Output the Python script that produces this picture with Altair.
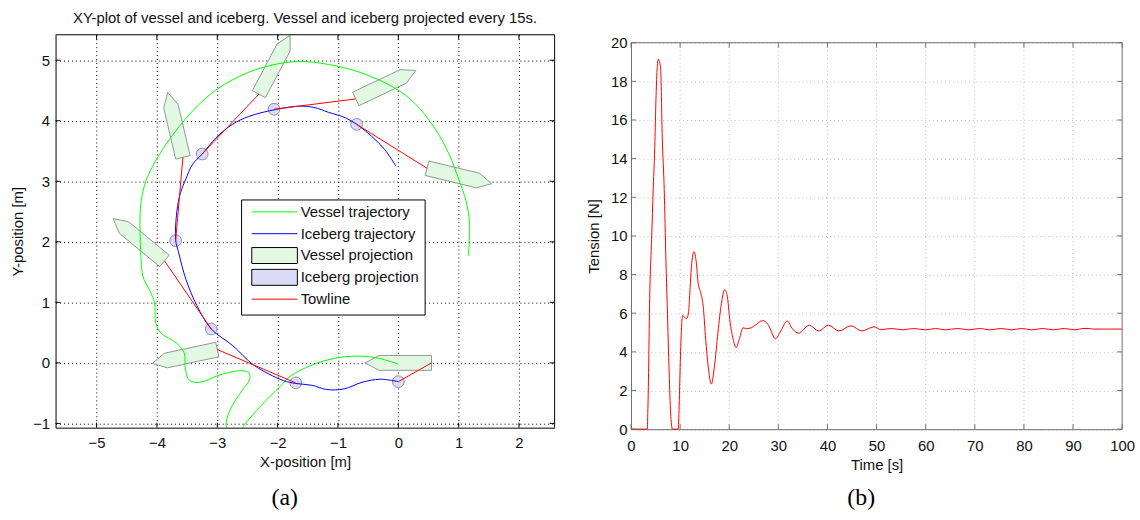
import altair as alt
import numpy as np
import pandas as pd

# ---------------- (a) XY-plot data ----------------
vessel_traj_x = [0.0, -0.06, -0.34, -0.61, -0.90, -1.17, -1.49, -1.79, -1.97, -2.27,
                 -2.57, -2.70, -2.85, -2.84, -2.75, -2.57, -2.46, -2.48, -2.63, -2.99,
                 -3.28, -3.46, -3.53, -3.55, -3.68, -3.93, -4.02, -4.04, -4.12, -4.23,
                 -4.27, -4.28, -4.26, -4.17, -3.85, -3.41, -3.02, -2.53, -2.09, -1.65,
                 -1.16, -0.61, -0.06, 0.27, 0.60, 0.84, 1.01, 1.12, 1.18, 1.16]
vessel_traj_y = [-0.02, 0.00, 0.08, 0.11, 0.10, 0.05, -0.06, -0.22, -0.40, -0.70,
                 -1.05, -1.25, -1.05, -0.92, -0.70, -0.43, -0.26, -0.16, -0.13, -0.21,
                 -0.32, -0.29, -0.10, 0.17, 0.33, 0.49, 0.66, 0.99, 1.20, 1.42,
                 1.86, 2.41, 2.68, 3.04, 3.61, 4.16, 4.51, 4.78, 4.92, 4.98,
                 4.93, 4.79, 4.54, 4.29, 3.88, 3.45, 3.01, 2.68, 2.30, 1.77]

iceberg_traj_x = [0.0, -0.30, -0.60, -0.90, -1.19, -1.43, -1.70, -1.91, -2.39, -2.75,
                  -3.10, -3.34, -3.52, -3.64, -3.69, -3.67, -3.61, -3.52, -3.41, -3.25,
                  -3.02, -2.75, -2.48, -2.06, -1.65, -1.40, -1.16, -0.88, -0.69, -0.45,
                  -0.23, -0.04]
iceberg_traj_y = [-0.31, -0.27, -0.32, -0.43, -0.44, -0.37, -0.34, -0.29, -0.04, 0.29,
                  0.56, 0.95, 1.38, 1.82, 2.03, 2.50, 2.81, 3.04, 3.28, 3.45,
                  3.72, 3.94, 4.07, 4.18, 4.24, 4.22, 4.14, 4.05, 3.94, 3.75,
                  3.53, 3.25]

# projections every 15 s
proj_time = [0, 15, 30, 45, 60, 75, 90]
iceberg_proj_x = [0.0, -1.70, -3.10, -3.69, -3.25, -2.06, -0.69]
iceberg_proj_y = [-0.31, -0.33, 0.56, 2.02, 3.45, 4.19, 3.94]
vessel_stern_x = [0.55, -3.00, -3.875, -3.57, -2.31, -0.705, 0.475]
vessel_stern_y = [0.00, 0.22, 1.685, 3.395, 4.44, 4.36, 3.215]
vessel_heading_deg = [180.0, 192.0, 140.6, 103.2, 62.0, 25.3, -13.5]
# hull outline in vessel frame (stern at origin, bow along +u)
hull_u = [0.0, 0.87, 1.10, 0.87, 0.0]
hull_v = [-0.123, -0.123, 0.0, 0.123, 0.123]

legend_labels = ["Vessel trajectory", "Iceberg trajectory", "Vessel projection",
                 "Iceberg projection", "Towline"]

# ---------------- (b) Tension data ----------------
time_s = [0, 3.3, 3.45, 3.85, 4.19, 4.53, 4.87, 5.07, 5.54, 6.02, 6.36, 6.76, 7.1, 7.37,
          7.77, 8.05, 8.45, 9.6, 9.8, 10.07, 10.5, 11.3, 11.7, 11.97, 12.3, 12.85, 13.3,
          13.66, 14.2, 14.7, 15.2, 15.7, 16.36, 17.0, 17.7, 18.4, 19.1, 19.6, 20.1, 20.8,
          21.4, 22.1, 22.8, 23.5, 24.5, 25.5, 26.8, 27.9, 29.4, 30.5, 31.8, 32.9, 34.1,
          36.3, 38.2, 40.2, 42.3, 44.8, 47.0, 49.5, 50.9, 53.0, 55.3, 57.5, 60.0, 62.0,
          64.0, 66.5, 68.8, 71.0, 73.1, 75.3, 77.5, 79.5, 81.6, 83.8, 86.0, 88.2, 90.4,
          92.0, 93.4, 94.0, 100.0]
tension_N = [0, 0, 1.2, 7.4, 9.8, 12.5, 14.9, 17.0, 19.15, 18.7, 15.1, 12.4, 8.8, 6.4,
             2.9, 0.87, 0, 0, 1.2, 3.8, 5.88, 5.71, 6.02, 7.05, 8.4, 9.19, 8.6,
             7.56, 7.05, 6.36, 4.65, 3.28, 2.33, 3.28, 5.0, 6.5, 7.22, 6.88, 5.68, 4.65,
             4.22, 4.7, 5.25, 5.2, 5.25, 5.42, 5.62, 5.42, 4.68, 5.08, 5.6, 5.18, 4.97,
             5.38, 5.08, 5.38, 5.08, 5.35, 5.08, 5.3, 5.15, 5.21, 5.14, 5.21, 5.14, 5.21,
             5.14, 5.21, 5.14, 5.21, 5.14, 5.21, 5.14, 5.21, 5.14, 5.21, 5.14, 5.21, 5.14,
             5.21, 5.21, 5.18, 5.18]

x_ticks_a = [-5, -4, -3, -2, -1, 0, 1, 2]
y_ticks_a = [-1, 0, 1, 2, 3, 4, 5]
x_ticks_b = [0, 10, 20, 30, 40, 50, 60, 70, 80, 90, 100]
y_ticks_b = [0, 2, 4, 6, 8, 10, 12, 14, 16, 18, 20]

# ---------------- build tables ----------------
vessel_df = pd.DataFrame({"x": vessel_traj_x, "y": vessel_traj_y, "k": range(len(vessel_traj_x))})
iceberg_df = pd.DataFrame({"x": iceberg_traj_x, "y": iceberg_traj_y, "k": range(len(iceberg_traj_x))})
ice_proj_df = pd.DataFrame({"x": iceberg_proj_x, "y": iceberg_proj_y, "t": proj_time})

rows = []
for i, (sx, sy, hd) in enumerate(zip(vessel_stern_x, vessel_stern_y, vessel_heading_deg)):
    th = np.deg2rad(hd)
    for k, (u, v) in enumerate(zip(hull_u, hull_v)):
        rows.append({"id": i, "k": k,
                     "x": sx + u * np.cos(th) - v * np.sin(th),
                     "y": sy + u * np.sin(th) + v * np.cos(th)})
poly_df = pd.DataFrame(rows)

tow_rows = []
for i in range(len(proj_time)):
    tow_rows.append({"id": i, "k": 0, "x": iceberg_proj_x[i], "y": iceberg_proj_y[i]})
    tow_rows.append({"id": i, "k": 1, "x": vessel_stern_x[i], "y": vessel_stern_y[i]})
tow_df = pd.DataFrame(tow_rows)

tension_df = pd.DataFrame({"t": time_s, "v": tension_N})

# ---------------- styling ----------------
FONT = "Liberation Sans"
TXT = "#111111"
W1, H1 = 503, 396
W2, H2 = 495, 397.5
TOP2 = 8
GRAY = "#707070"
GRID_B = "#bdbdbd"

xs_a = alt.Scale(domain=[-5.68, 2.59], nice=False, zero=False)
ys_a = alt.Scale(domain=[-1.07, 5.42], nice=False, zero=False)
axis_x_a = alt.Axis(values=x_ticks_a, grid=True, gridColor="#000000", gridDash=[1, 3],
                    gridOpacity=1, domain=True, domainColor="#000000", ticks=False,
                    labelPadding=8, title="X-position [m]", titlePadding=4, labelFlush=False)
axis_y_a = alt.Axis(values=y_ticks_a, grid=True, gridColor="#000000", gridDash=[1, 3],
                    gridOpacity=1, domain=True, domainColor="#000000", ticks=False,
                    labelPadding=6, title="Y-position [m]", titlePadding=7, labelFlush=False)
XA = alt.X("x:Q", scale=xs_a, axis=axis_x_a)
YA = alt.Y("y:Q", scale=ys_a, axis=axis_y_a)

one = pd.DataFrame({"d": [0]})

poly = alt.Chart(poly_df).mark_line(
    interpolate="linear-closed", fill="#e2f8e2", stroke="#8f998f", strokeWidth=1, clip=True
).encode(x=XA, y=YA, detail="id:N", order="k:Q")

ice_pts = alt.Chart(ice_proj_df).mark_circle(
    size=140, fill="#dcdcf6", stroke="#8e8ea8", strokeWidth=1, opacity=1
).encode(x=XA, y=YA)

v_line = alt.Chart(vessel_df).mark_line(
    color="#00ff00", strokeWidth=1, interpolate="catmull-rom", clip=True
).encode(x=XA, y=YA, order="k:Q")

i_line = alt.Chart(iceberg_df).mark_line(
    color="#0000ff", strokeWidth=1, interpolate="catmull-rom", clip=True
).encode(x=XA, y=YA, order="k:Q")

tow = alt.Chart(tow_df).mark_line(color="#ff0000", strokeWidth=1).encode(
    x=XA, y=YA, detail="id:N", order="k:Q")

xt_df = pd.DataFrame({"x": x_ticks_a})
yt_df = pd.DataFrame({"y": y_ticks_a})
ticks_a = [
    alt.Chart(xt_df).mark_rule(color="#000").encode(x=XA, y=alt.value(H1), y2=alt.value(H1 - 5)),
    alt.Chart(xt_df).mark_rule(color="#000").encode(x=XA, y=alt.value(0), y2=alt.value(5)),
    alt.Chart(yt_df).mark_rule(color="#000").encode(y=YA, x=alt.value(0), x2=alt.value(5)),
    alt.Chart(yt_df).mark_rule(color="#000").encode(y=YA, x=alt.value(W1), x2=alt.value(W1 - 5)),
    alt.Chart(one).mark_rule(color="#000").encode(x=alt.value(0), x2=alt.value(W1), y=alt.value(0)),
    alt.Chart(one).mark_rule(color="#000").encode(x=alt.value(W1), y=alt.value(0), y2=alt.value(H1)),
]

# legend symbols: same bounding box for line and box entries so rows are even
LINE = "M-1,-1.4M-1,1.4M-1,0H7"
RECT = "M-1,-1.4H7V1.4H-1Z"
leg = alt.Legend(orient="none", legendX=187, legendY=166, title=None,
                 fillColor="#ffffff", strokeColor="#000000", padding=5, symbolOffset=4,
                 symbolSize=132, symbolStrokeWidth=1, labelFont=FONT, labelFontSize=15,
                 labelColor=TXT, labelOffset=36, rowPadding=1)
legend_df = pd.DataFrame({"series": legend_labels})
legend_layer = alt.Chart(legend_df).transform_filter("false").mark_point(opacity=1).encode(
    shape=alt.Shape("series:N", scale=alt.Scale(domain=legend_labels,
                    range=[LINE, LINE, RECT, RECT, LINE]), legend=leg),
    fill=alt.Fill("series:N", scale=alt.Scale(domain=legend_labels,
                  range=["transparent", "transparent", "#e2f8e2", "#dcdcf6", "transparent"]), legend=leg),
    stroke=alt.Stroke("series:N", scale=alt.Scale(domain=legend_labels,
                      range=["#00ff00", "#0000ff", "#000000", "#000000", "#ff0000"]), legend=leg),
)

lab_a = alt.Chart(pd.DataFrame({"t": ["(a)"]})).mark_text(
    font="Liberation Serif", fontSize=24, color="#000"
).encode(text="t:N", x=alt.value(231), y=alt.value(467))

left = alt.layer(poly, ice_pts, v_line, i_line, tow, *ticks_a, legend_layer, lab_a).properties(
    width=W1, height=H1,
    title=alt.TitleParams("XY-plot of vessel and iceberg. Vessel and iceberg projected every 15s.",
                          font=FONT, fontSize=15, fontWeight="normal", color=TXT, offset=8,
                          anchor="middle"),
)

# ---------------- (b) ----------------
xs_b = alt.Scale(domain=[0, 100], nice=False, zero=False)
ys_b = alt.Scale(domain=[0, 20], nice=False, zero=False, range=[H2, TOP2])
axis_x_b = alt.Axis(values=x_ticks_b, grid=False, domain=True, domainColor=GRAY, ticks=False,
                    labelPadding=10, title="Time [s]", titlePadding=4, labelFlush=False)
axis_y_b = alt.Axis(values=y_ticks_b, grid=True, gridColor=GRID_B, gridDash=[1, 3], gridOpacity=1,
                    domain=True, domainColor=GRAY, ticks=False, labelPadding=4,
                    title="Tension [N]", titlePadding=9, labelFlush=False)
XB = alt.X("t:Q", scale=xs_b, axis=axis_x_b)
YB = alt.Y("v:Q", scale=ys_b, axis=axis_y_b)

xt_b = pd.DataFrame({"t": x_ticks_b})
yt_b = pd.DataFrame({"v": y_ticks_b})
xgrid_b = alt.Chart(pd.DataFrame({"t": x_ticks_b[1:-1]})).mark_rule(
    color=GRID_B, strokeDash=[1, 3]).encode(x=XB, y=alt.value(TOP2), y2=alt.value(H2))

tension_line = alt.Chart(tension_df).mark_line(
    color="#ff0000", strokeWidth=1, interpolate="monotone").encode(x=XB, y=YB)

frame_b = [
    alt.Chart(one).mark_rule(color=GRAY).encode(x=alt.value(0), x2=alt.value(W2), y=alt.value(TOP2)),
    alt.Chart(one).mark_rule(color=GRAY).encode(x=alt.value(W2), y=alt.value(TOP2), y2=alt.value(H2)),
    alt.Chart(xt_b).mark_rule(color=GRAY).encode(x=XB, y=alt.value(H2), y2=alt.value(H2 - 5)),
    alt.Chart(xt_b).mark_rule(color=GRAY).encode(x=XB, y=alt.value(TOP2), y2=alt.value(TOP2 + 5)),
    alt.Chart(yt_b).mark_rule(color=GRAY).encode(y=YB, x=alt.value(0), x2=alt.value(5)),
    alt.Chart(yt_b).mark_rule(color=GRAY).encode(y=YB, x=alt.value(W2), x2=alt.value(W2 - 5)),
]

lab_b = alt.Chart(pd.DataFrame({"t": ["(b)"]})).mark_text(
    font="Liberation Serif", fontSize=24, color="#000"
).encode(text="t:N", x=alt.value(232), y=alt.value(467))

right = alt.layer(xgrid_b, tension_line, *frame_b, lab_b).properties(width=W2, height=H2)

chart = alt.hconcat(left, right, spacing=77, bounds="flush").properties(
    padding={"left": 10, "top": 9, "right": 5, "bottom": 5},
).configure_view(stroke=None).configure_axis(
    labelFont=FONT, titleFont=FONT, labelFontSize=15, titleFontSize=15,
    titleFontWeight="normal", labelColor=TXT, titleColor=TXT,
)

chart.save("out.html", embed_options={"renderer": "svg", "actions": False})
